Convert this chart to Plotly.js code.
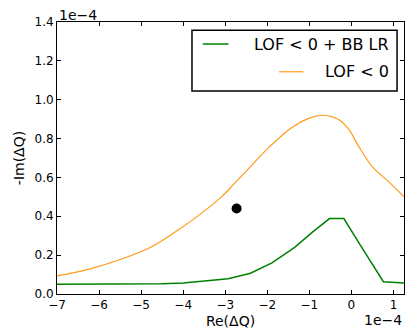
<!DOCTYPE html>
<html>
<head>
<meta charset="utf-8">
<script src="https://cdn.plot.ly/plotly-3.0.1.min.js"></script>
<style>html,body{margin:0;padding:0;background:#fff;}#chart{width:406px;height:331px;}</style>
</head>
<body>
<div id="chart"></div>
<script>
// values in units of 1e-4
var orangeX = [-7.0, -6.26, -5.46, -4.75, -4.12, -3.57, -3.09, -2.78, -2.4, -1.95, -1.4, -1.0, -0.69, -0.45, -0.25, -0.05, 0.18, 0.5, 0.89, 1.25];
var orangeY = [0.093, 0.127, 0.180, 0.243, 0.329, 0.415, 0.500, 0.569, 0.656, 0.757, 0.860, 0.905, 0.920, 0.912, 0.890, 0.843, 0.757, 0.654, 0.577, 0.500];
var greenX = [-7.0, -6.0, -5.0, -4.5, -4.0, -3.45, -2.93, -2.4, -1.89, -1.35, -0.92, -0.52, -0.18, 0.2, 0.76, 1.25];
var greenY = [0.050, 0.050, 0.051, 0.053, 0.057, 0.066, 0.078, 0.107, 0.160, 0.240, 0.320, 0.388, 0.388, 0.255, 0.063, 0.056];
var pointX = [-2.73];
var pointY = [0.44];
var yTicks = [0, 0.2, 0.4, 0.6, 0.8, 1.0, 1.2, 1.4];
var xTicks = [-7, -6, -5, -4, -3, -2, -1, 0, 1];
var labels = ["LOF < 0 + BB LR", "LOF < 0"];
var colors = ["#008000", "#ff9a1a"];

var traces = [
  {x: orangeX, y: orangeY, mode: "lines", line: {color: colors[1], width: 1.2, shape: "spline", smoothing: 1}, name: labels[1], showlegend: false},
  {x: greenX, y: greenY, mode: "lines", line: {color: colors[0], width: 1.5}, name: labels[0], showlegend: false},
  {x: pointX, y: pointY, mode: "markers", marker: {color: "#000", size: 10}, showlegend: false}
];

var font = {family: "DejaVu Sans", size: 12, color: "#000"};
var axisCommon = {
  showgrid: false, zeroline: false, showline: true, linecolor: "#000", linewidth: 1,
  mirror: "allticks", ticks: "inside", ticklen: 4, tickcolor: "#000", tickwidth: 1,
  tickfont: font
};

var layout = {
  width: 406, height: 331,
  margin: {l: 57, r: 2, t: 22, b: 37},
  paper_bgcolor: "#fff", plot_bgcolor: "#fff",
  font: font,
  xaxis: Object.assign({}, axisCommon, {
    range: [-7, 1.25], tickvals: xTicks, ticktext: xTicks.map(function(v){return v < 0 ? "\u2212" + Math.abs(v) : String(v);}),
    title: {text: "Re(\u0394Q)", font: {family: "DejaVu Sans", size: 14, color: "#000"}, standoff: 4}
  }),
  yaxis: Object.assign({}, axisCommon, {
    range: [0, 1.4], tickvals: yTicks, ticktext: yTicks.map(function(v){return v.toFixed(1);}),
    title: {text: "-Im(\u0394Q)", font: {family: "DejaVu Sans", size: 14, color: "#000"}, standoff: 6}
  }),
  shapes: [
    {type: "rect", xref: "paper", yref: "paper", x0: 0.389, x1: 0.98, y0: 0.746, y1: 0.970, line: {color: "#000", width: 1.5}, fillcolor: "#fff"},
    {type: "line", xref: "paper", yref: "paper", x0: 0.42, x1: 0.494, y0: 0.919, y1: 0.919, line: {color: colors[0], width: 1.5}},
    {type: "line", xref: "paper", yref: "paper", x0: 0.64, x1: 0.71, y0: 0.817, y1: 0.817, line: {color: colors[1], width: 1.2}}
  ],
  annotations: [
    {xref: "paper", yref: "paper", x: 0.962, y: 0.919, xanchor: "right", yanchor: "middle", text: labels[0], showarrow: false, font: {family: "DejaVu Sans", size: 16, color: "#000"}},
    {xref: "paper", yref: "paper", x: 0.962, y: 0.817, xanchor: "right", yanchor: "middle", text: labels[1], showarrow: false, font: {family: "DejaVu Sans", size: 16, color: "#000"}},
    {xref: "paper", yref: "paper", x: 0, y: 1, xanchor: "left", yanchor: "bottom", text: "1e\u22124", showarrow: false, font: {family: "DejaVu Sans", size: 14, color: "#000"}, yshift: -3},
    {xref: "paper", yref: "paper", x: 1, y: 0, xanchor: "right", yanchor: "top", text: "1e\u22124", showarrow: false, font: {family: "DejaVu Sans", size: 14, color: "#000"}, yshift: -16}
  ]
};

Plotly.newPlot("chart", traces, layout, {displayModeBar: false, staticPlot: true});
</script>
</body>
</html>
